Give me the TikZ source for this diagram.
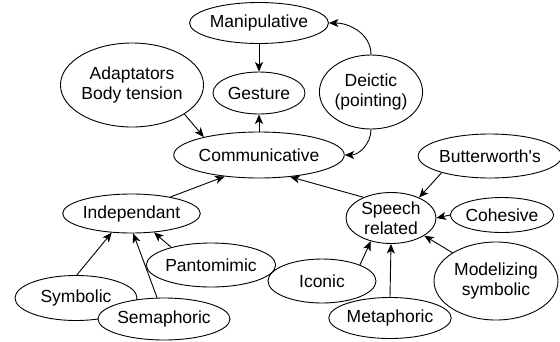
\documentclass[tikz,border=0pt]{standalone}
\usepackage{fontspec}
\setmainfont{Liberation Sans}
\usetikzlibrary{shapes.geometric,arrows.meta}
\begin{document}
\begin{tikzpicture}[x=1pt,y=-1pt,
  ell/.style={ellipse,draw,line width=0.9pt,fill=white,inner sep=0pt,align=center,
    font=\fontsize{17.5}{20}\selectfont},
  arr/.style={line width=0.9pt,-{Stealth[length=9.5pt,width=8pt,inset=2.5pt]}}]
\useasboundingbox (0,0) rectangle (560,341);
\node[ell,minimum width=122,minimum height=41] (man) at (259,23) {Manipulative};
\node[ell,minimum width=92,minimum height=42] (ges) at (259,93) {Gesture};
\node[ell,minimum width=135,minimum height=84] (ada) at (132,85) {Adaptators\\Body tension};
\node[ell,minimum width=150,minimum height=46] (com) at (259,155) {Communicative};
\node[ell,minimum width=84,minimum height=74] (dei) at (371,92) {Deictic\\(pointing)};
\node[ell,minimum width=132,minimum height=44] (but) at (490,156) {Butterworth\textquotesingle s};
\node[ell,minimum width=123,minimum height=39] (ind) at (131.5,213.5) {Independant};
\node[ell,minimum width=106,minimum height=44] (pan) at (211,265) {Pantomimic};
\node[ell,minimum width=122,minimum height=45] (sym) at (76,298) {Symbolic};
\node[ell,minimum width=124,minimum height=42] (sem) at (164,319) {Semaphoric};
\node[ell,minimum width=90,minimum height=51] (sp) at (391,218) {Speech\\related};
\node[ell,minimum width=90,minimum height=35] (coh) at (502,215) {Cohesive};
\node[ell,minimum width=108,minimum height=44] (ico) at (322,281) {Iconic};
\node[ell,minimum width=112,minimum height=41] (met) at (390,318) {Metaphoric};
\node[ell,minimum width=124,minimum height=78] (mod) at (496,281) {Modelizing\\symbolic};
\draw[arr] (man.south) -- (ges.north);
\draw[arr] (com.north) -- (ges.south);
\draw[arr] (ada.-29) -- (com.162);
\draw[arr] (dei.north) to[out=90,in=0] (man.east);
\draw[arr] (dei.south) to[out=-90,in=0] (com.east);
\draw[arr] (ind.23) -- (com.212);
\draw[arr] (sp.143) -- (com.-35);
\draw[arr] (but.199) -- (sp.36);
\draw[arr] (coh.west) -- (sp.east);
\draw[arr] (mod.147) -- (sp.-28);
\draw[arr] (ico.23) -- (sp.229);
\draw[arr] (met.north) -- (sp.south);
\draw[arr] (sym.88) -- (ind.224);
\draw[arr] (sem.108) -- (ind.275);
\draw[arr] (pan.156) -- (ind.320);
\end{tikzpicture}
\end{document}
